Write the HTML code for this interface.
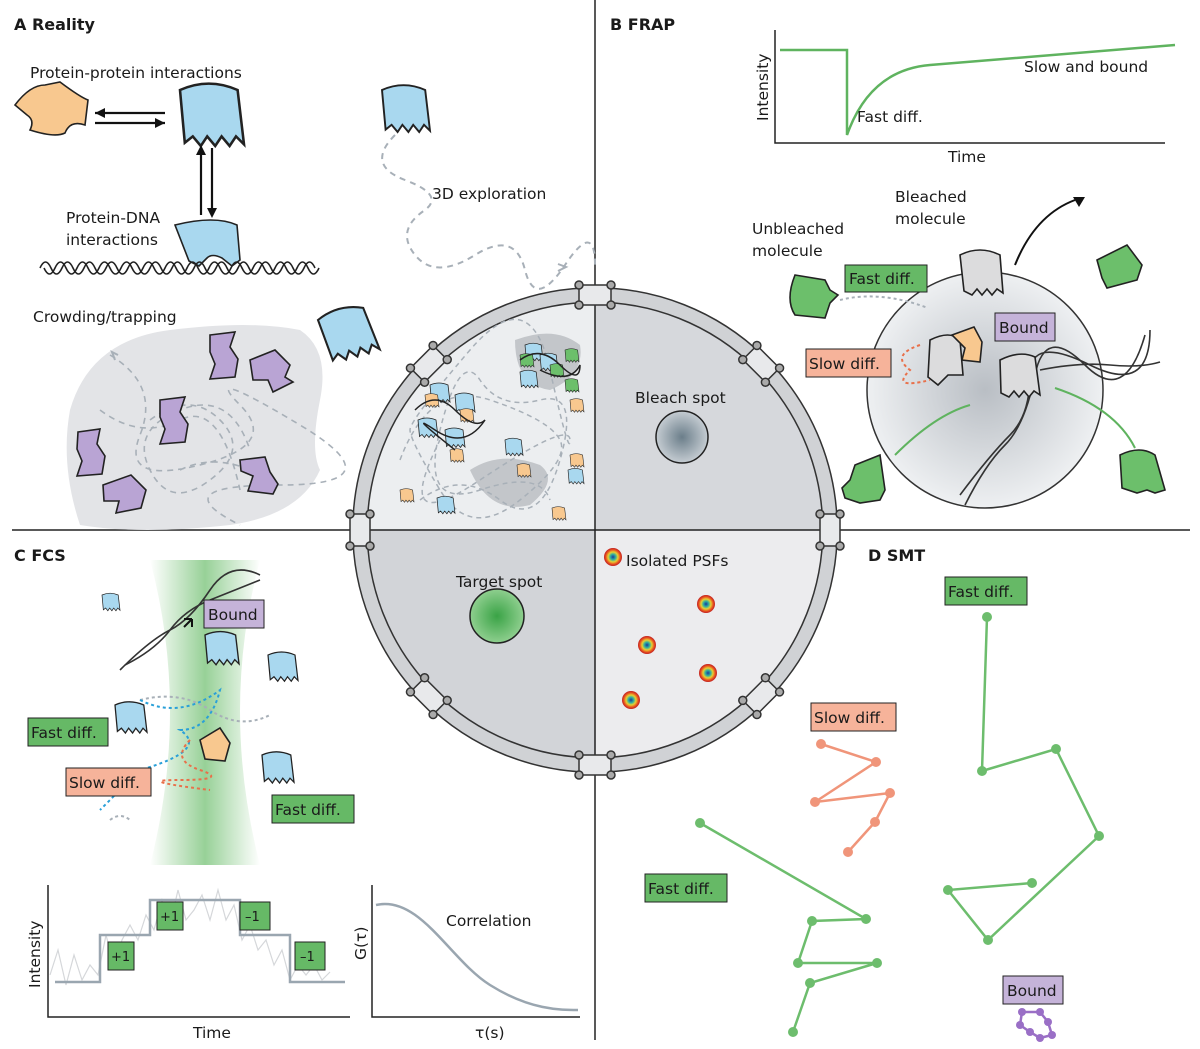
<!DOCTYPE html>
<html><head><meta charset="utf-8"><style>
html,body{margin:0;padding:0;background:#fff}
svg{display:block}
text{font-family:"DejaVu Sans","Liberation Sans",sans-serif;fill:#1a1a1a}
</style></head><body>
<svg width="1200" height="1049" viewBox="0 0 1200 1049" xmlns="http://www.w3.org/2000/svg">
<defs>
<path id="pr" d="M0,0 Q18,-8 36,0 L40,34 l-5,-5 l-4,6 l-5,-6 l-4,6 l-5,-6 l-4,6 l-5,-6 l-5,4 Z" stroke="#222" stroke-width="1.6"/>
<radialGradient id="gs"><stop offset="0" stop-color="#3aa346"/><stop offset="1" stop-color="#8fcf8f"/></radialGradient>
<radialGradient id="bs"><stop offset="0" stop-color="#6b7e8a"/><stop offset="1" stop-color="#c5ccd2"/></radialGradient>
<radialGradient id="frap"><stop offset="0" stop-color="#b9bec4"/><stop offset="1" stop-color="#eef0f2"/></radialGradient>
<linearGradient id="beam" x1="0" x2="1"><stop offset="0" stop-color="#fff"/><stop offset="0.5" stop-color="#7dc57d"/><stop offset="1" stop-color="#fff"/></linearGradient>
<radialGradient id="psf"><stop offset="0" stop-color="#1a3a9a"/><stop offset="0.3" stop-color="#2fb0a0"/><stop offset="0.55" stop-color="#e8d030"/><stop offset="0.8" stop-color="#e85020"/><stop offset="1" stop-color="#c02020"/></radialGradient>
</defs>

<line x1="595" y1="0" x2="595" y2="1040" stroke="#222" stroke-width="1.5"/>
<line x1="12" y1="530" x2="1190" y2="530" stroke="#222" stroke-width="1.5"/>

<path d="M595,530 L595,302 A228,228 0 0 0 367,530 Z" fill="#eceef0"/>
<path d="M595,530 L595,302 A228,228 0 0 1 823,530 Z" fill="#d6d8dc"/>
<path d="M595,530 L367,530 A228,228 0 0 0 595,758 Z" fill="#d2d4d8"/>
<path d="M595,530 L823,530 A228,228 0 0 1 595,758 Z" fill="#ececee"/>
<line x1="595" y1="302" x2="595" y2="758" stroke="#222" stroke-width="1.5"/>
<line x1="367" y1="530" x2="823" y2="530" stroke="#222" stroke-width="1.5"/>
<circle cx="595" cy="530" r="235" fill="none" stroke="#333" stroke-width="16"/>
<circle cx="595" cy="530" r="235" fill="none" stroke="#d0d2d5" stroke-width="13"/>
<g fill="#fff" stroke="#333" stroke-width="1.5">
<g transform="translate(595,530)">
<g transform="rotate(0)"><rect x="-16" y="-245" width="32" height="20" fill="#e8e9eb"/><circle cx="-16" cy="-245" r="4" fill="#aaa"/><circle cx="16" cy="-245" r="4" fill="#aaa"/><circle cx="-16" cy="-225" r="4" fill="#aaa"/><circle cx="16" cy="-225" r="4" fill="#aaa"/></g>
<g transform="rotate(45)"><rect x="-16" y="-245" width="32" height="20" fill="#e8e9eb"/><circle cx="-16" cy="-245" r="4" fill="#aaa"/><circle cx="16" cy="-245" r="4" fill="#aaa"/><circle cx="-16" cy="-225" r="4" fill="#aaa"/><circle cx="16" cy="-225" r="4" fill="#aaa"/></g>
<g transform="rotate(90)"><rect x="-16" y="-245" width="32" height="20" fill="#e8e9eb"/><circle cx="-16" cy="-245" r="4" fill="#aaa"/><circle cx="16" cy="-245" r="4" fill="#aaa"/><circle cx="-16" cy="-225" r="4" fill="#aaa"/><circle cx="16" cy="-225" r="4" fill="#aaa"/></g>
<g transform="rotate(135)"><rect x="-16" y="-245" width="32" height="20" fill="#e8e9eb"/><circle cx="-16" cy="-245" r="4" fill="#aaa"/><circle cx="16" cy="-245" r="4" fill="#aaa"/><circle cx="-16" cy="-225" r="4" fill="#aaa"/><circle cx="16" cy="-225" r="4" fill="#aaa"/></g>
<g transform="rotate(180)"><rect x="-16" y="-245" width="32" height="20" fill="#e8e9eb"/><circle cx="-16" cy="-245" r="4" fill="#aaa"/><circle cx="16" cy="-245" r="4" fill="#aaa"/><circle cx="-16" cy="-225" r="4" fill="#aaa"/><circle cx="16" cy="-225" r="4" fill="#aaa"/></g>
<g transform="rotate(225)"><rect x="-16" y="-245" width="32" height="20" fill="#e8e9eb"/><circle cx="-16" cy="-245" r="4" fill="#aaa"/><circle cx="16" cy="-245" r="4" fill="#aaa"/><circle cx="-16" cy="-225" r="4" fill="#aaa"/><circle cx="16" cy="-225" r="4" fill="#aaa"/></g>
<g transform="rotate(270)"><rect x="-16" y="-245" width="32" height="20" fill="#e8e9eb"/><circle cx="-16" cy="-245" r="4" fill="#aaa"/><circle cx="16" cy="-245" r="4" fill="#aaa"/><circle cx="-16" cy="-225" r="4" fill="#aaa"/><circle cx="16" cy="-225" r="4" fill="#aaa"/></g>
<g transform="rotate(315)"><rect x="-16" y="-245" width="32" height="20" fill="#e8e9eb"/><circle cx="-16" cy="-245" r="4" fill="#aaa"/><circle cx="16" cy="-245" r="4" fill="#aaa"/><circle cx="-16" cy="-225" r="4" fill="#aaa"/><circle cx="16" cy="-225" r="4" fill="#aaa"/></g>
</g></g>

<path d="M470,470 q30,-20 70,-5 q20,15 -10,40 q-40,10 -60,-35Z" fill="#c3c6ca"/>
<path d="M515,340 q40,-15 65,5 q5,30 -30,45 q-35,-5 -35,-50Z" fill="#c3c6ca"/>
<g fill="none" stroke="#a8b0b8" stroke-width="1.5" stroke-dasharray="5,4">
<path d="M400,460 q30,-80 90,-60 t70,40 t-40,60 t-80,-10 t-30,-60 t60,-80 t80,20 t20,70 t-90,40 t-40,-40"/>
<path d="M420,500 q40,-30 80,0 t60,-40 t-20,-60 t-60,-20 t-40,50 t40,60 t70,10"/>
</g>
<g fill="#a9d8ef"><use href="#pr" transform="translate(430,385) scale(0.5)"/><use href="#pr" transform="translate(455,395) scale(0.5)"/><use href="#pr" transform="translate(418,420) scale(0.5)"/><use href="#pr" transform="translate(445,430) scale(0.5)"/><use href="#pr" transform="translate(505,440) scale(0.45)"/><use href="#pr" transform="translate(525,345) scale(0.45)"/><use href="#pr" transform="translate(540,355) scale(0.45)"/><use href="#pr" transform="translate(520,372) scale(0.45)"/><use href="#pr" transform="translate(437,498) scale(0.45)"/><use href="#pr" transform="translate(568,470) scale(0.4)"/></g>
<g fill="#f8c88f"><use href="#pr" transform="translate(425,395) scale(0.35)"/><use href="#pr" transform="translate(460,410) scale(0.35)"/><use href="#pr" transform="translate(450,450) scale(0.35)"/><use href="#pr" transform="translate(570,400) scale(0.35)"/><use href="#pr" transform="translate(570,455) scale(0.35)"/><use href="#pr" transform="translate(517,465) scale(0.35)"/><use href="#pr" transform="translate(400,490) scale(0.35)"/><use href="#pr" transform="translate(552,508) scale(0.35)"/></g>
<g fill="#6cbf6b"><use href="#pr" transform="translate(520,355) scale(0.35)"/><use href="#pr" transform="translate(550,365) scale(0.35)"/><use href="#pr" transform="translate(565,350) scale(0.35)"/><use href="#pr" transform="translate(565,380) scale(0.35)"/></g>
<g fill="none" stroke="#222" stroke-width="1.5"><path d="M415,410 q20,-20 40,0 t30,10 q-20,30 -50,10 t20,20"/><path d="M520,360 q20,-15 40,5 t20,0 q-10,20 -40,5"/></g>

<text x="14" y="30" font-size="16" font-weight="bold">A Reality</text>
<text x="30" y="78" font-size="15.5">Protein-protein interactions</text>
<text x="66" y="223" font-size="15.5">Protein-DNA</text>
<text x="66" y="245" font-size="15.5">interactions</text>
<text x="432" y="199" font-size="15.5">3D exploration</text>
<text x="33" y="322" font-size="15.5">Crowding/trapping</text>
<path d="M15,105 q15,-20 30,-20 l15,-3 q20,15 28,18 l-3,25 q-15,-5 -20,8 q-10,5 -35,-3 q5,-10 -3,-15 Z" fill="#f8c88f" stroke="#222" stroke-width="1.6"/>
<use href="#pr" fill="#a9d8ef" transform="translate(180,90) scale(1.6)"/>
<g stroke="#111" stroke-width="2.2"><line x1="95" y1="113" x2="165" y2="113"/><line x1="95" y1="123" x2="165" y2="123"/><line x1="201" y1="148" x2="201" y2="215"/><line x1="212" y1="148" x2="212" y2="215"/></g>
<path d="M95,113 l10,-5 v10Z M165,123 l-10,-5 v10Z M201,145 l-5,10 h10Z M212,218 l-5,-10 h10Z" fill="#111"/>
<path d="M175,225 q40,-10 62,0 l3,35 l-8,6 l-10,-8 q-10,-5 -15,0 l-8,8 l-10,-5 Z" fill="#a9d8ef" stroke="#222" stroke-width="1.6"/>
<g fill="none" stroke="#222" stroke-width="1.6">
<path d="M40,268 q5.5,-12 11,0 t11,0 t11,0 t11,0 t11,0 t11,0 t11,0 t11,0 t11,0 t11,0 t11,0 t11,0 t11,0 t11,0 t11,0 t11,0 t11,0 t11,0 t11,0 t11,0 t11,0 t11,0 t11,0 t11,0 t11,0"/>
<path d="M44,268 q5.5,12 11,0 t11,0 t11,0 t11,0 t11,0 t11,0 t11,0 t11,0 t11,0 t11,0 t11,0 t11,0 t11,0 t11,0 t11,0 t11,0 t11,0 t11,0 t11,0 t11,0 t11,0 t11,0 t11,0 t11,0 t11,0"/>
</g>
<use href="#pr" fill="#a9d8ef" transform="translate(382,90) scale(1.2)"/>
<path d="M395,135 q-30,30 10,45 t20,30 q-30,20 -10,45 t60,0 t50,15 t40,-5 t30,0" fill="none" stroke="#a8b0b8" stroke-width="2" stroke-dasharray="6,5"/>
<path d="M558,264 l8,3 l-8,4" fill="none" stroke="#a8b0b8" stroke-width="2"/>
<path d="M70,410 q20,-70 100,-80 q80,-10 130,0 q30,20 20,70 q-10,50 0,70 q-20,45 -90,55 q-90,10 -150,0 q-20,-60 -10,-115Z" fill="#e3e4e7"/>
<path d="M110,355 q50,30 30,80 t60,30 t40,-60 t60,20 t-20,60 t-40,40 M150,420 q40,-30 70,0 t-10,60 t-60,-10 t30,-60 t70,40 M100,410 q40,30 80,10 t60,70 M180,470 q40,-20 90,10" fill="none" stroke="#a8b0b8" stroke-width="1.6" stroke-dasharray="6,5"/>
<path d="M118,355 l-6,-3 l3,8" fill="none" stroke="#a8b0b8" stroke-width="2"/>
<use href="#pr" fill="#a9d8ef" transform="translate(318,320) rotate(-15) scale(1.3)"/>
<g fill="#b9a4d4" stroke="#222" stroke-width="1.6">
<path d="M210,335 l25,-3 l-5,15 l8,12 l-3,18 l-25,2 l5,-15 l-5,-12Z"/>
<path d="M250,360 l25,-10 l15,15 l-5,12 l8,5 l-20,10 l-5,-12 l-15,0Z"/>
<path d="M160,400 l25,-3 l-5,15 l8,12 l-3,18 l-25,2 l5,-15 l-5,-12Z"/>
<path d="M78,432 l22,-3 l-3,15 l8,12 l-3,18 l-25,2 l5,-15 l-5,-12Z"/>
<path d="M240,460 l25,-3 l5,15 l8,12 l-5,10 l-25,-3 l5,-15 l-12,-5Z"/>
<path d="M103,485 l28,-10 l15,15 l-5,18 l-25,5 l3,-12 l-15,0Z"/>
</g>

<text x="610" y="30" font-size="16" font-weight="bold">B FRAP</text>
<path d="M775,30 V143 H1165" fill="none" stroke="#222" stroke-width="1.5"/>
<text transform="translate(768,121) rotate(-90)" font-size="15.5">Intensity</text>
<text x="948" y="162" font-size="15.5">Time</text>
<path d="M780,50 H847 V135 Q870,70 930,65 L1175,45" fill="none" stroke="#5fb35f" stroke-width="2.5"/>
<text x="1024" y="72" font-size="15.5">Slow and bound</text>
<text x="857" y="122" font-size="15.5">Fast diff.</text>
<text x="895" y="202" font-size="15.5">Bleached</text>
<text x="895" y="224" font-size="15.5">molecule</text>
<text x="752" y="234" font-size="15.5">Unbleached</text>
<text x="752" y="256" font-size="15.5">molecule</text>
<text x="635" y="403" font-size="15.5">Bleach spot</text>
<circle cx="682" cy="437" r="26" fill="url(#bs)" stroke="#222" stroke-width="1.5"/>
<circle cx="985" cy="390" r="118" fill="url(#frap)" stroke="#333" stroke-width="1.5"/>
<g fill="none" stroke="#333" stroke-width="1.6">
<path d="M965,505 q20,-40 40,-60 t30,-70 t50,-10 t60,-30"/>
<path d="M960,495 q30,-40 50,-60 t20,-60 t60,-10 t60,-35"/>
<path d="M1040,370 q40,-8 70,-5 t50,-3"/>
</g>
<path d="M1015,265 q20,-50 60,-65" fill="none" stroke="#111" stroke-width="2"/><path d="M1085,197 l-12,0 l6,10Z" fill="#111"/>
<path d="M960,255 q20,-10 40,0 l3,38 l-6,-4 l-5,6 l-5,-6 l-5,6 l-5,-6 l-5,6 l-8,-4Z" fill="#dcdcdd" stroke="#222" stroke-width="1.6"/>
<path d="M1000,360 q20,-10 35,-3 l5,38 l-6,-4 l-5,6 l-5,-6 l-5,6 l-5,-6 l-5,6 l-8,-4Z" fill="#dcdcdd" stroke="#222" stroke-width="1.6"/>
<path d="M930,340 q20,-10 30,0 l3,35 l-15,0 l-10,10 l-10,-8Z" fill="#dcdcdd" stroke="#222" stroke-width="1.6"/>
<path d="M952,335 l22,-8 l8,15 l-2,20 l-18,-2 l3,-12Z" fill="#f8c88f" stroke="#222" stroke-width="1.6"/>
<path d="M920,345 q-30,10 -10,25 q-20,20 20,10" fill="none" stroke="#e8704a" stroke-width="2" stroke-dasharray="3,3"/>
<path d="M840,300 q40,-10 88,8" fill="none" stroke="#a8b0b8" stroke-width="2" stroke-dasharray="3,3"/>
<g fill="#6cbf6b" stroke="#222" stroke-width="1.6">
<path d="M795,275 l30,5 l5,10 l8,5 l-8,8 l-5,15 l-30,-3 q-10,-15 0,-40Z"/>
<path d="M1097,260 l30,-15 l15,20 l-5,15 l-30,8 l-5,-10Z"/>
<path d="M855,465 l25,-10 l5,35 l-5,10 l-20,3 l-15,-5 l-3,-10 l8,-8Z"/>
<path d="M1120,455 q20,-10 35,0 l10,35 l-10,3 l-8,-3 l-10,3 l-15,-5Z"/>
</g>
<path d="M895,455 q40,-40 75,-50 M1135,448 q-20,-40 -80,-60" fill="none" stroke="#5fb35f" stroke-width="2"/>
<rect x="845" y="265" width="82" height="27" fill="#66b966" stroke="#222"/><text x="849" y="284" font-size="15.5">Fast diff.</text>
<rect x="995" y="313" width="60" height="28" fill="#c5b3d9" stroke="#222"/><text x="999" y="333" font-size="15.5">Bound</text>
<rect x="806" y="349" width="85" height="28" fill="#f6b39a" stroke="#222"/><text x="809" y="369" font-size="15.5">Slow diff.</text>

<text x="14" y="561" font-size="16" font-weight="bold">C FCS</text>
<text x="456" y="587" font-size="15.5">Target spot</text>
<circle cx="497" cy="616" r="27" fill="url(#gs)" stroke="#222" stroke-width="1.5"/>
<path d="M150,560 H260 Q220,710 260,865 H150 Q190,710 150,560Z" fill="url(#beam)" opacity="0.8"/>
<g fill="none" stroke="#333" stroke-width="1.6">
<path d="M120,670 q30,-30 50,-40 t40,-40 t50,-15"/><path d="M125,665 q30,-15 45,-35 t40,-30 t50,-20"/>
</g>
<g fill="#a9d8ef">
<use href="#pr" transform="translate(102,595) scale(0.45)"/><use href="#pr" transform="translate(205,635) scale(0.85)"/><use href="#pr" transform="translate(268,655) scale(0.75)"/><use href="#pr" transform="translate(115,705) scale(0.8)"/><use href="#pr" transform="translate(262,755) scale(0.8)"/>
</g>
<path d="M200,740 l20,-12 l10,15 l-5,18 l-20,-2Z" fill="#f8c88f" stroke="#222" stroke-width="1.6"/>
<path d="M140,700 q40,-10 70,10 t60,5" fill="none" stroke="#a8b0b8" stroke-width="2" stroke-dasharray="3,3"/>
<path d="M140,700 q40,20 80,-10 q-10,40 -40,40 q30,20 -40,40 q-20,20 -40,40" fill="none" stroke="#2aa0d8" stroke-width="2" stroke-dasharray="3,3"/>
<path d="M190,740 q-20,20 10,30 t-20,10 t30,10" fill="none" stroke="#e8704a" stroke-width="2" stroke-dasharray="3,3"/>
<path d="M110,820 q10,-8 20,0" fill="none" stroke="#a8b0b8" stroke-width="2" stroke-dasharray="3,3"/>
<path d="M184,627 l8,-8 M192,619 l-8,0 M192,619 l0,8" stroke="#111" stroke-width="2"/>
<rect x="204" y="600" width="60" height="28" fill="#c5b3d9" stroke="#222"/><text x="208" y="620" font-size="15.5">Bound</text>
<rect x="28" y="718" width="80" height="28" fill="#66b966" stroke="#222"/><text x="31" y="738" font-size="15.5">Fast diff.</text>
<rect x="66" y="768" width="85" height="28" fill="#f6b39a" stroke="#222"/><text x="69" y="788" font-size="15.5">Slow diff.</text>
<rect x="272" y="795" width="82" height="28" fill="#66b966" stroke="#222"/><text x="275" y="815" font-size="15.5">Fast diff.</text>
<path d="M48,885 V1017 H350" fill="none" stroke="#222" stroke-width="1.5"/>
<text transform="translate(40,988) rotate(-90)" font-size="15.5">Intensity</text>
<text x="193" y="1038" font-size="15.5">Time</text>
<path d="M50,975 l8,-25 l8,35 l8,-30 l8,25 l8,-15 l8,10 l8,-40 l8,30 l8,-25 l8,-15 l8,15 l8,-25 l8,15 l8,-30 l8,25 l8,-35 l8,30 l8,-10 l8,-15 l8,25 l8,-30 l8,30 l8,-15 l8,35 l8,-15 l8,25 l8,-10 l8,25 l8,-15 l8,30 l8,-15 l8,10 l8,-10 l8,15 l8,-8" fill="none" stroke="#d5d7da" stroke-width="1.2"/>
<path d="M55,982 H100 V935 H150 V900 H240 V935 H290 V982 H345" fill="none" stroke="#9aa6b0" stroke-width="2.5"/>
<rect x="108" y="942" width="26" height="28" fill="#66b966" stroke="#222"/><text x="111" y="961" font-size="13">+1</text>
<rect x="157" y="902" width="26" height="28" fill="#66b966" stroke="#222"/><text x="160" y="921" font-size="13">+1</text>
<rect x="240" y="902" width="30" height="28" fill="#66b966" stroke="#222"/><text x="245" y="921" font-size="13">–1</text>
<rect x="295" y="942" width="30" height="28" fill="#66b966" stroke="#222"/><text x="300" y="961" font-size="13">–1</text>
<path d="M372,885 V1017 H580" fill="none" stroke="#222" stroke-width="1.5"/>
<text transform="translate(366,960) rotate(-90)" font-size="15.5">G(τ)</text>
<text x="446" y="926" font-size="15.5">Correlation</text>
<text x="475" y="1038" font-size="15.5">τ(s)</text>
<path d="M376,905 C420,895 450,960 490,985 S560,1010 578,1010" fill="none" stroke="#9aa6b0" stroke-width="2.5"/>

<text x="868" y="561" font-size="16" font-weight="bold">D SMT</text>
<circle cx="613" cy="557" r="9" fill="url(#psf)"/>
<text x="626" y="566" font-size="15.5">Isolated PSFs</text>
<circle cx="706" cy="604" r="9" fill="url(#psf)"/><circle cx="647" cy="645" r="9" fill="url(#psf)"/><circle cx="708" cy="673" r="9" fill="url(#psf)"/><circle cx="631" cy="700" r="9" fill="url(#psf)"/>
<g fill="none" stroke="#6dbd6d" stroke-width="2.5">
<polyline points="987,617 982,771 1056,749 1099,836 988,940 948,890 1032,883"/>
<polyline points="700,823 866,919 812,921 798,963 877,963 810,983 793,1032"/>
</g>
<g fill="#6dbd6d"><circle cx="987" cy="617" r="5"/><circle cx="982" cy="771" r="5"/><circle cx="1056" cy="749" r="5"/><circle cx="1099" cy="836" r="5"/><circle cx="988" cy="940" r="5"/><circle cx="948" cy="890" r="5"/><circle cx="1032" cy="883" r="5"/><circle cx="700" cy="823" r="5"/><circle cx="866" cy="919" r="5"/><circle cx="812" cy="921" r="5"/><circle cx="798" cy="963" r="5"/><circle cx="877" cy="963" r="5"/><circle cx="810" cy="983" r="5"/><circle cx="793" cy="1032" r="5"/></g>
<polyline points="821,744 876,762 815,802 890,793 875,822 848,852" fill="none" stroke="#f0957a" stroke-width="2.5"/>
<g fill="#f0957a"><circle cx="821" cy="744" r="5"/><circle cx="876" cy="762" r="5"/><circle cx="815" cy="802" r="5"/><circle cx="890" cy="793" r="5"/><circle cx="875" cy="822" r="5"/><circle cx="848" cy="852" r="5"/></g>
<polygon points="1022,1012 1040,1012 1048,1022 1052,1035 1040,1038 1030,1032 1020,1025" fill="none" stroke="#9a6fc6" stroke-width="2.5"/>
<g fill="#9a6fc6"><circle cx="1022" cy="1012" r="4"/><circle cx="1040" cy="1012" r="4"/><circle cx="1048" cy="1022" r="4"/><circle cx="1052" cy="1035" r="4"/><circle cx="1040" cy="1038" r="4"/><circle cx="1030" cy="1032" r="4"/><circle cx="1020" cy="1025" r="4"/></g>
<rect x="945" y="577" width="82" height="28" fill="#66b966" stroke="#222"/><text x="948" y="597" font-size="15.5">Fast diff.</text>
<rect x="811" y="703" width="85" height="28" fill="#f6b39a" stroke="#222"/><text x="814" y="723" font-size="15.5">Slow diff.</text>
<rect x="645" y="874" width="82" height="28" fill="#66b966" stroke="#222"/><text x="648" y="894" font-size="15.5">Fast diff.</text>
<rect x="1003" y="976" width="60" height="28" fill="#c5b3d9" stroke="#222"/><text x="1007" y="996" font-size="15.5">Bound</text>
</svg>
</body></html>
